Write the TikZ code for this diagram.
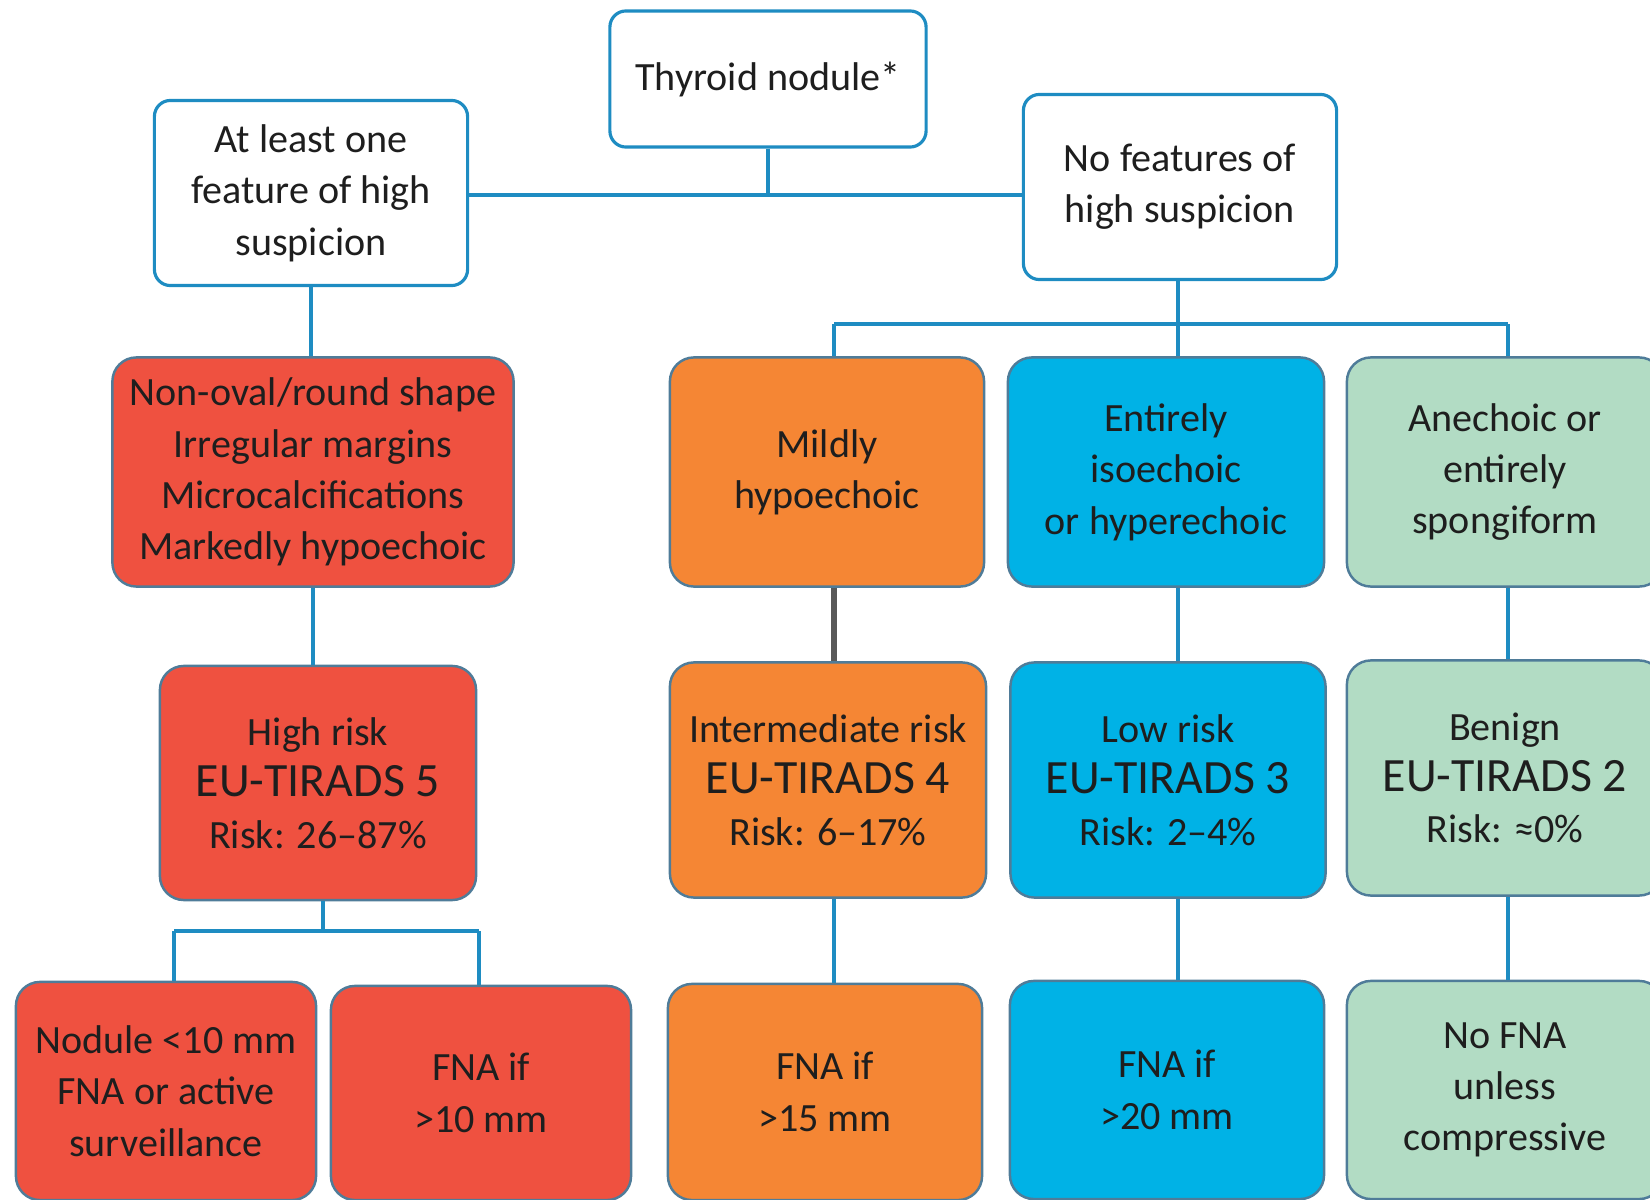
\documentclass[tikz,border=0pt]{standalone}
\usepackage{fontspec}
\setmainfont{Carlito}

\definecolor{redfill}{HTML}{EF5140}
\definecolor{orangefill}{HTML}{F58634}
\definecolor{bluefill}{HTML}{00B2E6}
\definecolor{greenfill}{HTML}{B2DCC4}
\definecolor{boxedge}{HTML}{4F7C99}
\definecolor{linkblue}{HTML}{1E8CC2}
\definecolor{txt}{HTML}{1E1E1E}

\newcommand{\eutirads}[1]{{\fontsize{13.6}{15.2}\selectfont EU-TIRADS #1}}

\begin{document}
\begin{tikzpicture}[x=0.01cm, y=-0.01cm,
    box/.style={draw=boxedge, line width=0.7pt, rounded corners=0.24cm, align=center,
        inner sep=0pt, text=txt, font=\fontsize{11.4}{14.6}\selectfont},
    wbox/.style={box, draw=linkblue, fill=white, line width=0.9pt, rounded corners=0.16cm},
    redbox/.style={box, fill=redfill},
    orangebox/.style={box, fill=orangefill},
    bluebox/.style={box, fill=bluefill},
    greenbox/.style={box, fill=greenfill},
    link/.style={draw=linkblue, line width=0.9pt},
    greylink/.style={draw=black!65, line width=1.7pt}]

    \useasboundingbox (0,0) rectangle (1650,1200);

    % top of the tree
    \node[wbox, minimum width=3.16cm, minimum height=1.36cm] (thy) at (768,79) {Thyroid nodule*};
    \node[wbox, minimum width=3.13cm, minimum height=1.85cm] (lft) at (311,193) {At least one\\feature of high\\suspicion};
    \node[wbox, minimum width=3.13cm, minimum height=1.85cm] (rgt) at (1180,187) {No features of\\high suspicion};

    % features
    \node[redbox, minimum width=4.01cm, minimum height=2.29cm] (r1) at (313,472) {Non-oval/round shape\\Irregular margins\\Microcalcifications\\Markedly hypoechoic};
    \node[orangebox, minimum width=3.14cm, minimum height=2.29cm] (o1) at (827,472) {Mildly\\hypoechoic};
    \node[bluebox, minimum width=3.16cm, minimum height=2.29cm] (b1) at (1166,472) {Entirely\\isoechoic\\or hyperechoic};
    \node[greenbox, minimum width=3.16cm, minimum height=2.29cm] (g1) at (1505,472) {Anechoic or\\entirely\\spongiform};

    % risk classes
    \node[redbox, minimum width=3.16cm, minimum height=2.34cm] (r2) at (318,783) {High risk\\\eutirads{5}\\Risk: 26--87\%};
    \node[orangebox, minimum width=3.16cm, minimum height=2.35cm] (o2) at (828,780) {Intermediate risk\\\eutirads{4}\\Risk: 6--17\%};
    \node[bluebox, minimum width=3.15cm, minimum height=2.35cm] (b2) at (1168,780) {Low risk\\\eutirads{3}\\Risk: 2--4\%};
    \node[greenbox, minimum width=3.16cm, minimum height=2.35cm] (g2) at (1505,778) {Benign\\\eutirads{2}\\Risk: ≈0\%};

    % what to do
    \node[redbox, minimum width=3.00cm, minimum height=2.18cm] (r3a) at (166,1091) {Nodule <10 mm\\FNA or active\\surveillance};
    \node[redbox, minimum width=3.00cm, minimum height=2.14cm] (r3b) at (481,1093) {FNA if\\>10 mm};
    \node[orangebox, minimum width=3.14cm, minimum height=2.16cm] (o3) at (825,1092) {FNA if\\>15 mm};
    \node[bluebox, minimum width=3.14cm, minimum height=2.18cm] (b3) at (1167,1090) {FNA if\\>20 mm};
    \node[greenbox, minimum width=3.16cm, minimum height=2.18cm] (g3) at (1505,1090) {No FNA\\unless\\compressive};

    \coordinate (j0) at (768,195);
    \coordinate (j1) at (323,931);
    \coordinate (j1a) at (174,931);
    \coordinate (j1b) at (479,931);
    \coordinate (j2) at (1178,324);
    \coordinate (xo) at (834,0);
    \coordinate (xb) at (1178,0);
    \coordinate (xg) at (1508,0);

    % root
    \draw[link] (thy.south) -- (j0);
    \draw[link, line width=1.4pt] (lft.east |- j0) -- (rgt.west |- j0);

    % left branch
    \draw[link] (lft.south) -- (lft.south |- r1.north);
    \draw[link] (r1.south) -- (r1.south |- r2.north);
    \draw[link] (j1 |- r2.south) -- (j1);
    \draw[link] (j1a) -- (j1b);
    \draw[link] (j1a) -- (j1a |- r3a.north);
    \draw[link] (j1b) -- (j1b |- r3b.north);

    % right branch
    \draw[link] (xb |- rgt.south) -- (j2);
    \draw[link] (xo |- j2) -- (xg |- j2);
    \foreach \c in {o,b,g} \draw[link] (x\c |- j2) -- (x\c |- \c1.north);
    \draw[greylink] (xo |- o1.south) -- (xo |- o2.north);
    \foreach \c in {b,g} \draw[link] (x\c |- \c1.south) -- (x\c |- \c2.north);
    \foreach \c in {o,b,g} \draw[link] (x\c |- \c2.south) -- (x\c |- \c3.north);
\end{tikzpicture}
\end{document}
